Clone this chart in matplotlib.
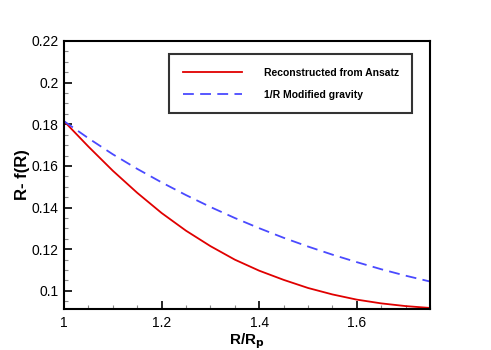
import numpy as np
import matplotlib
matplotlib.use("Agg")
import matplotlib.pyplot as plt
from matplotlib.ticker import MultipleLocator

plt.rcParams['font.family'] = ['Liberation Sans', 'DejaVu Sans']

R = [1.00, 1.05, 1.10, 1.15, 1.20, 1.25, 1.30, 1.35, 1.40, 1.45, 1.50, 1.55, 1.60, 1.65, 1.70, 1.75]
f_ansatz = [0.1815, 0.1693, 0.1577, 0.1471, 0.1374, 0.1289, 0.1215, 0.1150, 0.1097, 0.1053,
            0.1014, 0.0983, 0.0958, 0.0940, 0.0927, 0.0918]
f_modgrav = [0.1815, 0.1733, 0.1656, 0.1586, 0.1521, 0.1460, 0.1403, 0.1350, 0.1301, 0.1255,
             0.1213, 0.1174, 0.1138, 0.1104, 0.1073, 0.1045]
labels = ["Reconstructed from Ansatz", "1/R Modified gravity"]
xticks = [1, 1.2, 1.4, 1.6]
xticklabels = ["1", "1.2", "1.4", "1.6"]
yticks = [0.1, 0.12, 0.14, 0.16, 0.18, 0.2, 0.22]
yticklabels = ["0.1", "0.12", "0.14", "0.16", "0.18", "0.2", "0.22"]

fig = plt.figure(figsize=(4.91, 3.5), dpi=100)
ax = fig.add_axes([64/491, 1-309/350, (430-64)/491, (309-41)/350])

ax.plot(R, f_ansatz, color='#e00000', lw=1.3, label=labels[0])
ax.plot(R, f_modgrav, color='#4a4aff', lw=1.3, ls=(0, (6, 3.5)), label=labels[1])

ax.set_xlim(1, 1.75)
ax.set_ylim(0.0913, 0.22)
ax.set_xticks(xticks)
ax.set_xticklabels(xticklabels)
ax.set_yticks(yticks)
ax.set_yticklabels(yticklabels)
ax.xaxis.set_minor_locator(MultipleLocator(0.05))
ax.yaxis.set_minor_locator(MultipleLocator(0.005))
ax.tick_params(which='both', direction='in', top=False, right=False, labelsize=10)
ax.tick_params(which='major', length=6, width=1.2)
ax.tick_params(which='minor', length=3, width=0.8, color='#888888')
ax.tick_params(axis='y', which='major', pad=4)
ax.tick_params(axis='x', which='major', pad=5)
for s in ax.spines.values():
    s.set_linewidth(1.5)

ax.set_xlabel(r"R/R$_\mathbf{p}$", fontsize=11, fontweight='bold', labelpad=1)
ax.set_ylabel("R- f(R)", fontsize=12, fontweight='bold', labelpad=1)

leg = ax.legend(loc='upper left', bbox_to_anchor=((169-64)/366, 1-(54-41)/268),
                prop={'weight': 'bold', 'size': 7.5}, frameon=True, fancybox=False,
                edgecolor='black', handlelength=5.7, handletextpad=2.1,
                borderpad=1.3, labelspacing=1.15, borderaxespad=0)
leg.get_frame().set_linewidth(1.5)

fig.savefig("out.png", dpi=100)
